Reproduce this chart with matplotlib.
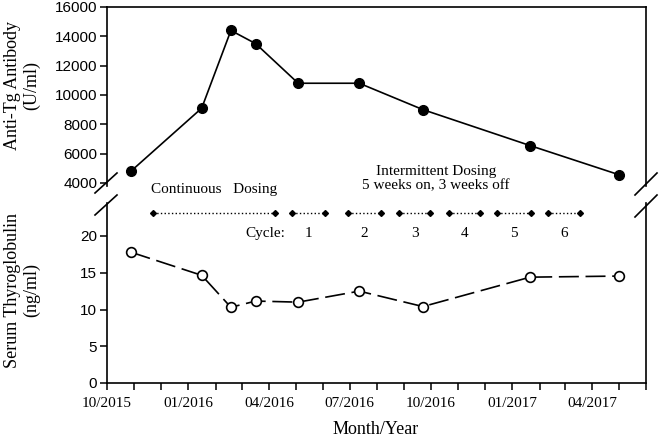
import matplotlib
matplotlib.use("Agg")
import matplotlib.pyplot as plt
import matplotlib.dates as mdates
from matplotlib.lines import Line2D
import pandas as pd

# ---- data ----
visit_dates = ["2015-10-28", "2016-01-16", "2016-02-18", "2016-03-17", "2016-05-04",
               "2016-07-12", "2016-09-22", "2017-01-21", "2017-05-02"]
anti_tg = [4800, 9100, 14400, 13500, 10800, 10800, 9000, 6550, 4550]
thyroglobulin = [17.8, 14.65, 10.3, 11.15, 11.0, 12.5, 10.4, 14.4, 14.55]

continuous_dosing = ["2015-11-22", "2016-04-08"]
cycle_starts = ["2016-04-27", "2016-06-29", "2016-08-26", "2016-10-21", "2016-12-15", "2017-02-10"]
cycle_ends = ["2016-06-03", "2016-08-06", "2016-09-30", "2016-11-26", "2017-01-22", "2017-03-18"]
cycle_labels = ["1", "2", "3", "4", "5", "6"]

top_yticks = [4000, 6000, 8000, 10000, 12000, 14000, 16000]
bottom_yticks = [0, 5, 10, 15, 20]
x_start, x_end = "2015-10-01", "2017-06-01"

dates = pd.to_datetime(visit_dates)
W, H = 660, 437
fig = plt.figure(figsize=(W / 100, H / 100), dpi=100)

def fax(l, t, r, b):
    return [l / W, 1 - b / H, (r - l) / W, (b - t) / H]

ax_top = fig.add_axes(fax(107, 7, 646, 186))
ax_bot = fig.add_axes(fax(107, 203, 646, 383))

serif = "Liberation Serif"
sans = "Liberation Sans"

# top panel
ax_top.plot(dates, anti_tg, color="black", lw=1.2, marker="o", ms=7,
            mfc="black", mec="black")
ax_top.set_ylim(16000 - 68.2 * (186 - 7), 16000)
ax_top.set_yticks(top_yticks)
ax_top.spines["bottom"].set_visible(False)
ax_top.tick_params(axis="x", which="both", bottom=False, labelbottom=False)

# bottom panel
ax_bot.plot(dates, thyroglobulin, color="black", lw=1.2, ls=(0, (12, 4)),
            marker="o", ms=7, mfc="white", mec="black", mew=1.2)
ax_bot.set_ylim(0, (383 - 203) / 7.35)
ax_bot.set_yticks(bottom_yticks)
ax_bot.spines["top"].set_visible(False)

for ax in (ax_top, ax_bot):
    ax.set_xlim(pd.Timestamp(x_start), pd.Timestamp(x_end))
    for s in ax.spines.values():
        s.set_linewidth(1.2)
    ax.tick_params(axis="y", direction="out", length=5, width=1.1, labelsize=11, pad=2)
    for lab in ax.get_yticklabels():
        lab.set_fontfamily(sans)

ax_bot.xaxis.set_major_locator(mdates.MonthLocator(bymonth=[1, 4, 7, 10]))
ax_bot.xaxis.set_minor_locator(mdates.MonthLocator())
ax_bot.xaxis.set_major_formatter(mdates.DateFormatter("%m/%Y"))
ax_bot.tick_params(axis="x", which="both", direction="out", length=5, width=1.1,
                   labelsize=11, pad=5)
for lab in ax_bot.get_xticklabels():
    lab.set_fontfamily(serif)

# dosing annotations
c0, c1 = pd.to_datetime(continuous_dosing)
ax_bot.plot([c0, c1], [23.1, 23.1], color="black", ls=":", lw=1.0,
            marker="D", ms=3, clip_on=False)
ax_bot.text(c0 + (c1 - c0) / 2, 26.3, "Continuous   Dosing", ha="center", va="center",
            fontsize=11, family=serif)
for s, e, lab in zip(pd.to_datetime(cycle_starts), pd.to_datetime(cycle_ends), cycle_labels):
    ax_bot.plot([s, e], [23.1, 23.1], color="black", ls=":", lw=1.0,
                marker="D", ms=3, clip_on=False)
    ax_bot.text(s + (e - s) / 2, 20.3, lab, ha="center", va="center",
                fontsize=11, family=serif)
first = pd.Timestamp(cycle_starts[0])
ax_bot.text(first - pd.Timedelta(days=8), 20.3, "Cycle:", ha="right", va="center",
            fontsize=11, family=serif)
mid = pd.Timestamp(cycle_starts[0]) + (pd.Timestamp(cycle_ends[-1]) - pd.Timestamp(cycle_starts[0])) / 2
ax_bot.text(mid, 27.85, "Intermittent Dosing\n5 weeks on, 3 weeks off", ha="center",
            va="center", fontsize=11, family=serif, linespacing=1.1)

# axis labels
fig.text(22 / W, 1 - 86 / H, "Anti-Tg Antibody\n(U/ml)", rotation=90, ha="center",
         va="center", fontsize=13, family=serif, linespacing=1.1)
fig.text(22 / W, 1 - 290 / H, "Serum Thyroglobulin\n(ng/ml)", rotation=90, ha="center",
         va="center", fontsize=13, family=serif, linespacing=1.1)
fig.text(376 / W, 1 - 430 / H, "Month/Year", ha="center", va="center",
         fontsize=13, family=serif)

# break marks
def brk(x0, y0, x1, y1):
    fig.add_artist(Line2D([x0 / W, x1 / W], [1 - y0 / H, 1 - y1 / H],
                          transform=fig.transFigure, color="black", lw=1.2))
brk(95, 193, 117, 173)
brk(95, 215, 117, 195)
brk(635, 195, 657, 173)
brk(635, 217, 657, 195)

fig.savefig("out.png", dpi=100)
